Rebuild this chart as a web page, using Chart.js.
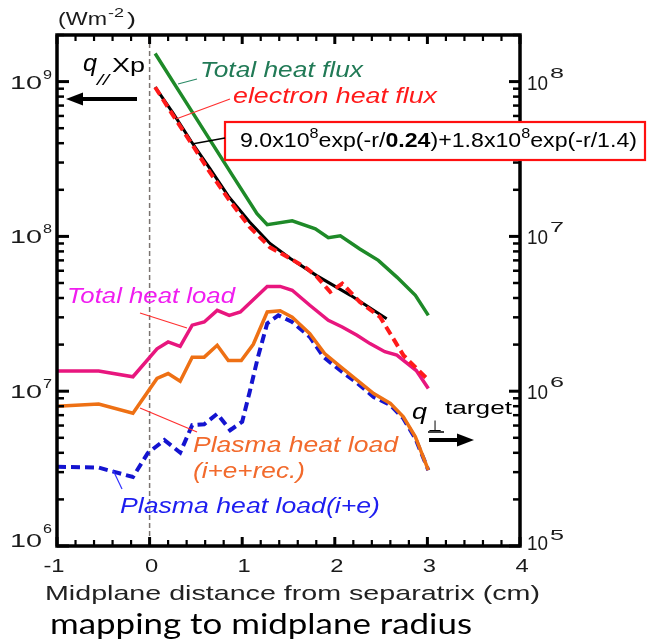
<!DOCTYPE html>
<html>
<head>
<meta charset="utf-8">
<script src="https://cdn.jsdelivr.net/npm/chart.js@4.4.1/dist/chart.umd.min.js"></script>
<style>
  html, body { margin: 0; padding: 0; background: #fff; }
  canvas { display: block; }
</style>
</head>
<body>
<canvas id="c" width="650" height="643"></canvas>
<script>
// Values (x in cm, y in W m^-2)
const xTotalFlux = [0.06, 0.3, 0.6, 0.9, 1.16, 1.27, 1.54, 1.79, 1.93, 2.06, 2.27, 2.47, 2.67, 2.87, 3.01];
const totalFlux = [1.52e9, 9.0e8, 4.7e8, 2.45e8, 1.40e8, 1.19e8, 1.26e8, 1.12e8, 9.8e7, 1.01e8, 8.3e7, 7.0e7, 5.46e7, 4.16e7, 3.09e7];

const xElecFlux = [0.06, 0.25, 0.45, 0.65, 0.85, 1.08, 1.30, 1.52, 1.70, 1.81, 1.95, 2.08, 2.27, 2.49, 2.60, 2.74, 3.01];
const elecFlux = [9.2e8, 6.1e8, 4.0e8, 2.6e8, 1.75e8, 1.15e8, 8.5e7, 7.2e7, 6.2e7, 5.46e7, 4.38e7, 4.96e7, 3.77e7, 3.01e7, 2.35e7, 1.71e7, 1.18e7];

const xFit = [0.06, 0.25, 0.45, 0.65, 0.85, 1.08, 1.30, 1.52, 1.80, 2.17, 2.56];
const fitFlux = [9.2e8, 6.3e8, 4.1e8, 2.75e8, 1.82e8, 1.24e8, 9.0e7, 7.2e7, 5.6e7, 4.16e7, 2.94e7];

const xTotalLoad = [-1, -0.55, -0.18, 0.08, 0.20, 0.33, 0.46, 0.59, 0.73, 0.86, 0.98, 1.27, 1.41, 1.54, 1.73, 1.93, 2.08, 2.24, 2.38, 2.54, 2.67, 2.88, 3.01];
const totalLoad = [1.35e7, 1.35e7, 1.24e7, 1.88e7, 2.08e7, 1.95e7, 2.67e7, 2.80e7, 3.33e7, 3.09e7, 3.25e7, 4.75e7, 4.75e7, 4.49e7, 3.59e7, 2.87e7, 2.60e7, 2.30e7, 2.03e7, 1.80e7, 1.71e7, 1.36e7, 1.04e7];

const xPlasmaRec = [-1, -0.55, -0.18, 0.08, 0.20, 0.33, 0.46, 0.59, 0.73, 0.85, 0.99, 1.12, 1.27, 1.41, 1.54, 1.73, 1.89, 2.06, 2.24, 2.42, 2.60, 2.74, 2.87, 3.01];
const plasmaRec = [8.0e6, 8.26e6, 7.21e6, 1.21e7, 1.30e7, 1.16e7, 1.66e7, 1.66e7, 1.98e7, 1.58e7, 1.58e7, 2.01e7, 3.25e7, 3.31e7, 3.01e7, 2.35e7, 1.75e7, 1.44e7, 1.18e7, 9.66e6, 8.34e6, 6.83e6, 5.07e6, 3.09e6];

const xPlasmaIE = [-1, -0.55, -0.18, -0.02, 0.16, 0.33, 0.46, 0.59, 0.73, 0.87, 1.00, 1.08, 1.17, 1.27, 1.39, 1.54, 1.73, 1.88, 2.06, 2.24, 2.42, 2.60, 2.74, 2.87, 3.01];
const plasmaIE = [3.25e6, 3.21e6, 2.79e6, 3.98e6, 4.83e6, 4.01e6, 6.04e6, 6.12e6, 7.14e6, 5.6e6, 6.35e6, 9.86e6, 1.66e7, 2.74e7, 3.09e7, 2.80e7, 2.24e7, 1.66e7, 1.36e7, 1.13e7, 9.18e6, 8.13e6, 6.67e6, 4.95e6, 3.09e6];

const xTicks = [-1, 0, 1, 2, 3, 4];
const leftDecades = [6, 7, 8, 9];
const rightDecades = [5, 6, 7, 8];

const FONT = "'Liberation Sans', Arial, sans-serif";

function pts(xs, ys) {
    return xs.map((x, i) => ({ x: x, y: ys[i] }));
}

// draws text squeezed/stretched to a wanted width
function txt(ctx, s, x, y, size, o = {}) {
    ctx.font = `${o.style || 'normal'} ${o.weight || 'normal'} ${size}px ${o.family || FONT}`;
    const m = ctx.measureText(s).width;
    const sx = o.w ? o.w / m : (o.sx || 1);
    ctx.save();
    ctx.translate(x, y);
    ctx.scale(sx, 1);
    ctx.textAlign = o.align || 'left';
    ctx.textBaseline = 'alphabetic';
    ctx.fillStyle = o.color || '#1a1a1a';
    ctx.fillText(s, 0, 0);
    ctx.restore();
    return m * sx;
}

function line(ctx, x1, y1, x2, y2, color, w) {
    ctx.save();
    ctx.strokeStyle = color;
    ctx.lineWidth = w;
    ctx.beginPath();
    ctx.moveTo(x1, y1);
    ctx.lineTo(x2, y2);
    ctx.stroke();
    ctx.restore();
}

function arrow(ctx, x1, x2, y, dir) {
    // dir -1 = head on the left, 1 = head on the right
    const tip = dir < 0 ? x1 : x2;
    const base = tip - dir * 17;
    line(ctx, dir < 0 ? base : x1, y, dir < 0 ? x2 : base, y, '#000', 4);
    ctx.fillStyle = '#000';
    ctx.beginPath();
    ctx.moveTo(tip, y);
    ctx.lineTo(base, y - 6.5);
    ctx.lineTo(base, y + 6.5);
    ctx.closePath();
    ctx.fill();
}

const decor = {
    id: 'decor',
    beforeDatasetsDraw(chart) {
        const ctx = chart.ctx;
        const { top, bottom } = chart.chartArea;
        const x0 = chart.scales.x.getPixelForValue(0);
        ctx.save();
        ctx.setLineDash([5, 3]);
        line(ctx, x0, top, x0, bottom, '#7a7470', 1.5);
        ctx.restore();
    },
    afterDatasetsDraw(chart) {
        const ctx = chart.ctx;
        const { left, right, top, bottom } = chart.chartArea;
        const xs = chart.scales.x, ys = chart.scales.y, ys2 = chart.scales.y2;

        // x ticks, bottom and top
        for (let i = 0; i <= 25; i++) {
            const v = -1 + i * 0.2;
            const px = xs.getPixelForValue(v);
            const major = i % 5 === 0;
            const len = major ? 9 : 6;
            line(ctx, px, bottom, px, bottom - len, '#000', major ? 3 : 2.2);
            line(ctx, px, top, px, top + len, '#000', major ? 3 : 2.2);
        }
        // log ticks left
        leftDecades.forEach(d => {
            for (let m = 1; m <= 9; m++) {
                const v = m * Math.pow(10, d);
                if (v > ys.max) break;
                const py = ys.getPixelForValue(v);
                line(ctx, left, py, left + (m === 1 ? 12 : 7), py, '#000', m === 1 ? 3 : 2.5);
            }
        });
        // log ticks right
        rightDecades.forEach(d => {
            for (let m = 1; m <= 9; m++) {
                const v = m * Math.pow(10, d);
                if (v > ys2.max) break;
                const py = ys2.getPixelForValue(v);
                line(ctx, right, py, right - (m === 1 ? 11 : 7), py, '#000', m === 1 ? 3 : 2.5);
            }
        });

        // frame
        ctx.save();
        ctx.strokeStyle = '#000';
        ctx.lineWidth = 3.5;
        ctx.strokeRect(left, top, right - left, bottom - top);
        ctx.restore();

        // tick labels
        xTicks.forEach(v => {
            txt(ctx, String(v), xs.getPixelForValue(v) - (v < 0 ? 3 : -2), 572, 19, { align: 'center', sx: 1.25 });
        });
        leftDecades.forEach(d => {
            const py = ys.getPixelForValue(Math.pow(10, d));
            const low = d === 6;
            txt(ctx, '10', 10, low ? 547 : py + 7, 18, { w: 32 });
            txt(ctx, String(d), 43, low ? 533 : py - 3, 13, { w: 9 });
        });
        rightDecades.forEach(d => {
            const py = ys2.getPixelForValue(Math.pow(10, d));
            const low = d === 5;
            txt(ctx, '10', 527, low ? 550 : py + 8, 21, { w: 21 });
            txt(ctx, String(d), 550, low ? 540 : py - 4, 15, { w: 14 });
        });

        // unit
        txt(ctx, '(Wm', 58, 25, 18, { w: 49 });
        txt(ctx, '-2', 108, 17, 13, { w: 16 });
        txt(ctx, ')', 127, 25, 18, { w: 9 });

        // axis titles
        txt(ctx, 'Midplane distance from separatrix (cm)', 45, 600, 21, { w: 495, color: '#222' });
        txt(ctx, 'mapping to midplane radius', 50, 634, 29, { w: 422, color: '#000', family: "Lato, 'Open Sans', sans-serif" });

        // q// Xp and arrow
        txt(ctx, 'q', 83, 71, 23, { style: 'italic', w: 14, color: '#000' });
        txt(ctx, '//', 97, 85, 14, { style: 'italic', w: 12, color: '#000' });
        txt(ctx, 'Xp', 112, 72, 21, { w: 33, color: '#000' });
        arrow(ctx, 66, 137, 99, -1);

        // q_perp target and arrow
        txt(ctx, 'q', 412, 419, 22, { style: 'italic', w: 15, color: '#000' });
        txt(ctx, '\u22A5', 428, 431, 15, { w: 14, color: '#000' });
        line(ctx, 428, 432, 444, 432, '#000', 1.5);
        txt(ctx, 'target', 445, 414, 19, { w: 67, color: '#000' });
        arrow(ctx, 429, 474, 440, 1);

        // series labels and leader lines
        txt(ctx, 'Total heat flux', 200, 77, 22, { style: 'italic', w: 163, color: '#217a56' });
        line(ctx, 178, 84, 197, 79, '#2a8a66', 1.2);
        txt(ctx, 'electron heat flux', 233, 103, 22, { style: 'italic', w: 204, color: '#ff1a1a' });
        line(ctx, 176, 119, 230, 99, '#ff3030', 1.2);

        // fit formula box
        ctx.save();
        ctx.fillStyle = '#fff';
        ctx.fillRect(225, 122, 420, 38);
        ctx.strokeStyle = '#ff1010';
        ctx.lineWidth = 2.2;
        ctx.strokeRect(225, 122, 420, 38);
        ctx.restore();
        line(ctx, 192, 144, 225, 138, '#000', 1.5);
        const parts = [
            { t: '9.0x10', s: 20 }, { t: '8', s: 14, dy: -9 }, { t: 'exp(-r/', s: 20 },
            { t: '0.24', s: 20, b: true }, { t: ')+1.8x10', s: 20 }, { t: '8', s: 14, dy: -9 },
            { t: 'exp(-r/1.4)', s: 20 }
        ];
        let natural = 0;
        parts.forEach(p => {
            ctx.font = `${p.b ? 'bold' : 'normal'} ${p.s}px ${FONT}`;
            p.m = ctx.measureText(p.t).width;
            natural += p.m;
        });
        const k = 397 / natural;
        let cx = 240;
        parts.forEach(p => {
            cx += txt(ctx, p.t, cx, 146.5 + (p.dy || 0), p.s, { weight: p.b ? 'bold' : 'normal', sx: k, color: '#000' });
        });

        txt(ctx, 'Total heat load', 67, 303, 22, { style: 'italic', w: 168, color: '#f01ef0' });
        line(ctx, 140, 313, 187, 328, '#ff3030', 1.2);
        txt(ctx, 'Plasma heat load', 193, 452, 22, { style: 'italic', w: 205, color: '#f26a2c' });
        txt(ctx, '(i+e+rec.)', 193, 478, 22, { style: 'italic', w: 112, color: '#f26a2c' });
        line(ctx, 140, 408, 197, 432, '#ff3030', 1.2);
        txt(ctx, 'Plasma heat load(i+e)', 120, 513, 22, { style: 'italic', w: 260, color: '#1e1ef0' });
        line(ctx, 113, 470, 122, 489, '#3030ff', 1.2);
    }
};

const ds = (label, xs, ys, color, width, dash, order) => ({
    label: label,
    data: pts(xs, ys),
    borderColor: color,
    borderWidth: width,
    borderDash: dash,
    pointRadius: 0,
    fill: false,
    tension: 0,
    order: order
});

new Chart(document.getElementById('c'), {
    type: 'line',
    data: {
        datasets: [
            ds('Total heat flux', xTotalFlux, totalFlux, '#1e8a28', 3.5, [], 5),
            ds('Fit', xFit, fitFlux, '#000', 3, [], 2),
            ds('electron heat flux', xElecFlux, elecFlux, '#ff1a1a', 4, [9, 5], 1),
            ds('Total heat load', xTotalLoad, totalLoad, '#e8167e', 3.5, [], 5),
            ds('Plasma heat load (i+e)', xPlasmaIE, plasmaIE, '#1414d0', 4, [9, 5], 4),
            ds('Plasma heat load (i+e+rec.)', xPlasmaRec, plasmaRec, '#ee7014', 3.5, [], 3)
        ]
    },
    options: {
        responsive: false,
        animation: false,
        devicePixelRatio: 1,
        layout: { padding: { left: 57, top: 35, right: 130, bottom: 97 } },
        plugins: { legend: { display: false }, tooltip: { enabled: false } },
        scales: {
            x: { type: 'linear', min: -1, max: 4, display: false },
            y: { type: 'logarithmic', min: 1e6, max: 2e9, display: false },
            y2: { type: 'logarithmic', min: 1e5, max: 2e8, display: false, position: 'right' }
        }
    },
    plugins: [decor]
});
</script>
</body>
</html>
